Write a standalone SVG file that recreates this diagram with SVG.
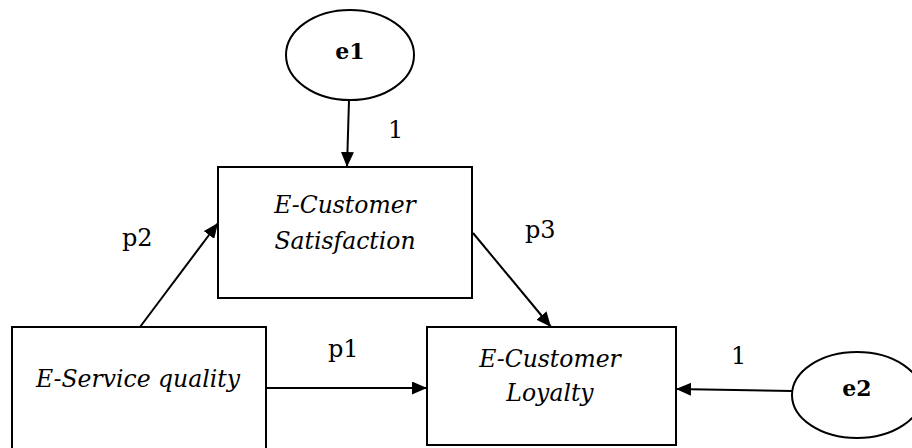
<svg xmlns="http://www.w3.org/2000/svg" width="912" height="448" viewBox="0 0 912 448">
  <style>
    .box { fill: #ffffff; stroke: #000000; stroke-width: 2; }
    .err { fill: #ffffff; stroke: #000000; stroke-width: 2; }
    .edge { fill: none; stroke: #000000; stroke-width: 2; }
    text { font-family: 'DejaVu Serif', serif; fill: #000000; }
    .label { font-size: 23.5px; font-style: italic; text-anchor: middle; }
    .errlabel { font-size: 22px; font-weight: bold; text-anchor: middle; }
    .coef { font-size: 24px; }
  </style>
  <defs>
    <marker id="arrow" markerUnits="userSpaceOnUse" markerWidth="15" markerHeight="13" refX="15" refY="6.5" orient="auto">
      <path d="M0,0 L15,6.5 L0,13 z" fill="#000000"/>
    </marker>
  </defs>
  <rect width="912" height="448" fill="#ffffff"/>

  <!-- connectors -->
  <g id="connectors">
    <line class="edge" x1="349" y1="100" x2="347" y2="167" marker-end="url(#arrow)"/>
    <line class="edge" x1="140" y1="327" x2="218" y2="223" marker-end="url(#arrow)"/>
    <line class="edge" x1="473" y1="233" x2="551" y2="327" marker-end="url(#arrow)"/>
    <line class="edge" x1="266" y1="388" x2="427" y2="388" marker-end="url(#arrow)"/>
    <line class="edge" x1="792" y1="391" x2="676" y2="389" marker-end="url(#arrow)"/>
    <text class="coef" x="388" y="138">1</text>
    <text class="coef" x="122" y="246">p2</text>
    <text class="coef" x="525" y="238">p3</text>
    <text class="coef" x="328" y="357">p1</text>
    <text class="coef" x="731" y="364">1</text>
  </g>

  <!-- error term e1 -->
  <g id="e1">
    <ellipse class="err" cx="350" cy="55" rx="64" ry="45"/>
    <text class="errlabel" x="350" y="59">e1</text>
  </g>

  <!-- mediator -->
  <g id="satisfaction">
    <rect class="box" x="218" y="167" width="254" height="131"/>
    <text class="label" x="345" y="213">E-Customer</text>
    <text class="label" x="345" y="249">Satisfaction</text>
  </g>

  <!-- exogenous variable -->
  <g id="service">
    <rect class="box" x="12" y="327" width="254" height="130"/>
    <text class="label" x="138" y="387">E-Service quality</text>
  </g>

  <!-- outcome -->
  <g id="loyalty">
    <rect class="box" x="427" y="327" width="249" height="118"/>
    <text class="label" x="550" y="367">E-Customer</text>
    <text class="label" x="550" y="401">Loyalty</text>
  </g>

  <!-- error term e2 -->
  <g id="e2">
    <ellipse class="err" cx="857" cy="395" rx="65" ry="43"/>
    <text class="errlabel" x="857" y="396">e2</text>
  </g>
</svg>
